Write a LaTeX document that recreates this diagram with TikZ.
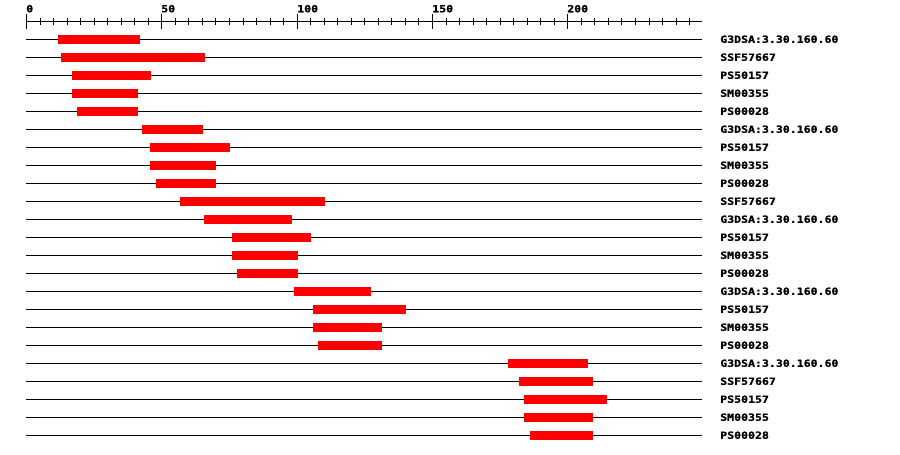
\documentclass[tikz,border=0pt]{standalone}
\usepackage{fontspec}
\newfontfamily\pixfont[FakeStretch=1.17,FakeBold=1.2]{DejaVu Sans Mono Bold}
\begin{document}
\begin{tikzpicture}[x=0.75pt,y=-0.75pt,
  trackline/.style={black,line width=0.75pt},
  hitbar/.style={fill=red,draw=none},
  axisline/.style={black,line width=0.75pt},
  lbl/.style={font=\pixfont\fontsize{7.4pt}{8pt}\selectfont,inner sep=0pt,anchor=base west}]
\useasboundingbox (0,0) rectangle (900,454);
% axis
\coordinate (ax0) at (26.5,21.5);
\coordinate (ax1) at (702,21.5);
\draw[axisline] (ax0) -- (ax1);
\foreach \i in {0,...,49}{
  \pgfmathsetmacro{\xx}{round(26+\i*13.533)+0.5}
  \draw[axisline] (\xx,18) -- (\xx,25);
}
\foreach \i in {0,10,20,30,40}{
  \pgfmathsetmacro{\xx}{round(26+\i*13.533)+0.5}
  \draw[axisline] (\xx,14) -- (\xx,29);
}
\foreach \v/\n/\i in {0/t0/0,50/t50/10,100/t100/20,150/t150/30,200/t200/40}{
  \pgfmathsetmacro{\xx}{round(26+\i*13.533)}
  \node[lbl] (\n) at (\xx,12.3) {\v};
}
% rows
\foreach \k/\name/\s/\e in {
 0/G3DSA:3.30.160.60/58/140,
 1/SSF57667/61/205,
 2/PS50157/72/151,
 3/SM00355/72/138,
 4/PS00028/77/138,
 5/G3DSA:3.30.160.60/142/203,
 6/PS50157/150/230,
 7/SM00355/150/216,
 8/PS00028/156/216,
 9/SSF57667/180/325,
 10/G3DSA:3.30.160.60/204/292,
 11/PS50157/232/311,
 12/SM00355/232/298,
 13/PS00028/237/298,
 14/G3DSA:3.30.160.60/294/371,
 15/PS50157/313/406,
 16/SM00355/313/382,
 17/PS00028/318/382,
 18/G3DSA:3.30.160.60/508/588,
 19/SSF57667/519/593,
 20/PS50157/524/607,
 21/SM00355/524/593,
 22/PS00028/530/593}{
  \pgfmathsetmacro{\yy}{39.5+\k*18}
  \coordinate (a\k) at (26,\yy);
  \coordinate (b\k) at (702,\yy);
  \draw[trackline] (a\k) -- (b\k);
  \fill[hitbar] (\s,\yy-4.5) rectangle (\e,\yy+4.5);
  \node[lbl] (l\k) at (720,\yy+3.3) {\name};
}
\end{tikzpicture}
\end{document}
